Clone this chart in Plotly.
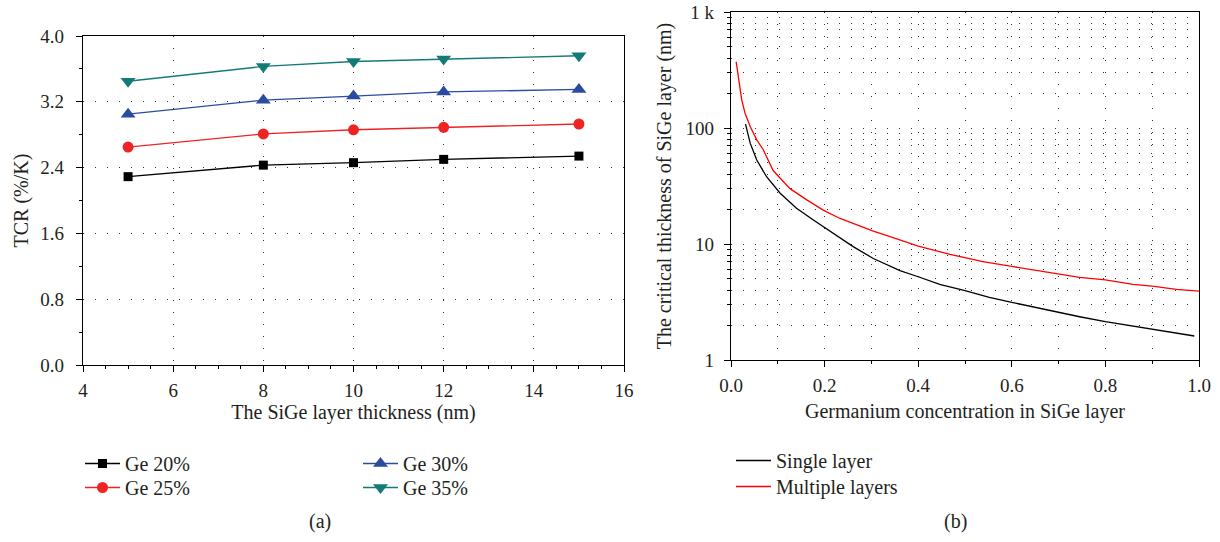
import plotly.graph_objects as go

# ---------------- data: panel (a) ----------------
thickness_nm = [5, 8, 10, 12, 15]
tcr_ge20 = [2.29, 2.43, 2.46, 2.50, 2.54]
tcr_ge25 = [2.65, 2.81, 2.86, 2.89, 2.93]
tcr_ge30 = [3.05, 3.22, 3.27, 3.32, 3.35]
tcr_ge35 = [3.45, 3.63, 3.69, 3.72, 3.76]

# ---------------- data: panel (b) ----------------
single_x = [0.031, 0.041, 0.055, 0.076, 0.105, 0.14, 0.176, 0.219, 0.261, 0.304,
            0.34, 0.361, 0.4, 0.446, 0.5, 0.552, 0.6, 0.659, 0.7, 0.745, 0.8,
            0.859, 0.9, 0.952, 0.99]
single_y = [108, 74, 53, 38, 27.4, 20.3, 16.1, 12.4, 9.5, 7.5,
            6.4, 5.9, 5.22, 4.49, 3.96, 3.47, 3.14, 2.79, 2.59, 2.36, 2.14,
            1.96, 1.84, 1.70, 1.61]
multi_x = [0.011, 0.016, 0.023, 0.030, 0.041, 0.055, 0.069, 0.09, 0.105, 0.126,
           0.162, 0.197, 0.233, 0.269, 0.304, 0.34, 0.361, 0.4, 0.468, 0.5,
           0.538, 0.6, 0.666, 0.7, 0.745, 0.8, 0.859, 0.9, 0.952, 1.0]
multi_y = [373, 277, 174, 134, 103, 79, 65, 43, 37, 30,
           24, 19.6, 16.6, 14.6, 12.9, 11.6, 10.8, 9.6, 8.15, 7.6,
           7.04, 6.4, 5.77, 5.48, 5.16, 4.9, 4.49, 4.34, 4.06, 3.93]

log_tick_vals = [1, 10, 100, 1000]
log_tick_text = ["1", "10", "100", "1 k"]

FONT = "Liberation Serif, Times New Roman, serif"
TXT = "#231f20"
W, H = 1220, 542
FS_TICK = 19
FS_TITLE = 20

fig = go.Figure()

series_a = [
    ("Ge 20%", tcr_ge20, "#000000", "square", 9, "legend"),
    ("Ge 25%", tcr_ge25, "#ee2424", "circle", 11, "legend2"),
    ("Ge 30%", tcr_ge30, "#2b4ba0", "triangle-up", 13, "legend3"),
    ("Ge 35%", tcr_ge35, "#147a78", "triangle-down", 13, "legend4"),
]
for name, vals, col, sym, sz, lg in series_a:
    fig.add_trace(go.Scatter(
        x=thickness_nm, y=vals, name=name, mode="lines+markers",
        line=dict(color=col, width=1.3),
        marker=dict(symbol=sym, size=sz, color=col, line=dict(width=0)),
        xaxis="x", yaxis="y", legend=lg))

fig.add_trace(go.Scatter(x=single_x, y=single_y, name="Single layer", mode="lines",
                         line=dict(color="#000000", width=1.3),
                         xaxis="x2", yaxis="y2", legend="legend5"))
fig.add_trace(go.Scatter(x=multi_x, y=multi_y, name="Multiple layers", mode="lines",
                         line=dict(color="#ff0000", width=1.3),
                         xaxis="x2", yaxis="y2", legend="legend6"))

DOT = "1px,11px"
GRIDC = "#333333"


def px_x(p):
    return p / W


def px_y(p):
    return 1 - p / H


axis_common = dict(showline=True, linecolor="#000000", linewidth=1.3, mirror=True,
                   ticks="outside", ticklen=6, tickcolor="#000000", tickwidth=1,
                   tickfont=dict(family=FONT, size=FS_TICK, color=TXT),
                   zeroline=False, showgrid=True, gridcolor=GRIDC, gridwidth=1,
                   griddash=DOT, automargin=False)

minor_tick_vals_log = [m * d for d in (1, 10, 100) for m in range(2, 10)]

title_font = dict(family=FONT, size=FS_TITLE, color=TXT)
legend_common = dict(xanchor="left", yanchor="top", bgcolor="rgba(0,0,0,0)",
                     font=dict(family=FONT, size=FS_TITLE, color=TXT),
                     tracegroupgap=0, itemwidth=35)

fig.update_layout(
    template="none",
    width=W, height=H, margin=dict(l=0, r=0, t=0, b=0, pad=0),
    paper_bgcolor="white", plot_bgcolor="white",
    font=dict(family=FONT, size=FS_TITLE, color=TXT),
    xaxis=dict(axis_common, domain=[px_x(83), px_x(624)], range=[4, 16],
               dtick=2, tick0=4, anchor="y",
               minor=dict(dtick=0.5, ticks="outside", ticklen=3, tickcolor="#000000",
                          showgrid=False),
               ticklabelstandoff=2,
               title=dict(text="The SiGe layer thickness (nm)", font=title_font,
                          standoff=3)),
    yaxis=dict(axis_common, domain=[px_y(365), px_y(36)], range=[0, 4],
               dtick=0.8, tick0=0, tickformat=".1f", anchor="x",
               minor=dict(dtick=0.4, ticks="outside", ticklen=3, tickcolor="#000000",
                          showgrid=False),
               ticklabelstandoff=8,
               title=dict(text="TCR (%/K)", font=title_font, standoff=6)),
    xaxis2=dict(axis_common, domain=[px_x(731), px_x(1199)], range=[0, 1],
                dtick=0.2, tick0=0, tickformat=".1f", anchor="y2",
                minor=dict(dtick=0.1, ticks="outside", ticklen=3, tickcolor="#000000",
                           showgrid=True, gridcolor=GRIDC, griddash=DOT),
                ticklabelstandoff=2,
                title=dict(text="Germanium concentration in SiGe layer",
                           font=title_font, standoff=9)),
    yaxis2=dict(axis_common, domain=[px_y(360), px_y(12)], type="log", range=[0, 3],
                tickmode="array", tickvals=log_tick_vals, ticktext=log_tick_text,
                anchor="x2",
                minor=dict(tickmode="array", tickvals=minor_tick_vals_log,
                           ticks="outside", ticklen=3, tickcolor="#000000",
                           showgrid=True, gridcolor=GRIDC, griddash=DOT),
                ticklabelstandoff=6,
                title=dict(text="The critical thickness of SiGe layer (nm)",
                           font=title_font, standoff=8)),
    legend=dict(legend_common, x=px_x(80), y=px_y(444)),
    legend2=dict(legend_common, x=px_x(80), y=px_y(468)),
    legend3=dict(legend_common, x=px_x(358), y=px_y(444)),
    legend4=dict(legend_common, x=px_x(358), y=px_y(468)),
    legend5=dict(legend_common, x=px_x(731), y=px_y(441)),
    legend6=dict(legend_common, x=px_x(731), y=px_y(467)),
    showlegend=True,
    annotations=[
        dict(text="(a)", x=px_x(320), y=px_y(521), xref="paper", yref="paper",
             xanchor="center", yanchor="middle", showarrow=False,
             font=dict(family=FONT, size=FS_TITLE, color=TXT)),
        dict(text="(b)", x=px_x(955), y=px_y(521), xref="paper", yref="paper",
             xanchor="center", yanchor="middle", showarrow=False,
             font=dict(family=FONT, size=FS_TITLE, color=TXT)),
    ],
)

fig.write_html("out.html")
